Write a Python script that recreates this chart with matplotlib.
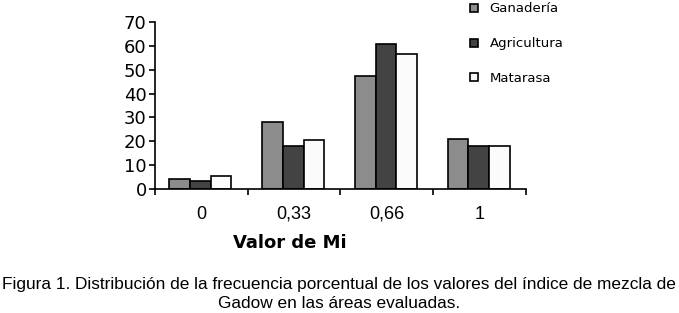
import matplotlib.pyplot as plt
import numpy as np

categorias = ["0", "0,33", "0,66", "1"]
ganaderia = [4.1, 28, 47.2, 20.8]
agricultura = [3.5, 18, 60.6, 18]
matarasa = [5.4, 20.7, 56.6, 18]

series = [("Ganadería", ganaderia, "#8c8c8c"),
          ("Agricultura", agricultura, "#434343"),
          ("Matarasa", matarasa, "#fbfbfb")]

fig = plt.figure(figsize=(6.79, 3.13), dpi=100)
ax = fig.add_axes([155 / 679, 1 - 189 / 313, 371 / 679, 167 / 313])

x = np.arange(len(categorias))
w = 0.223
for i, (nombre, vals, color) in enumerate(series):
    ax.bar(x + (i - 1) * w - 0.01, vals, w, color=color, edgecolor="black",
           linewidth=1.2, label=nombre)

ax.set_xlim(-0.5, 3.5)
ax.set_ylim(0, 70)
ax.set_yticks(range(0, 71, 10))
ax.set_xticks(np.arange(-0.5, 4, 1))
ax.set_xticklabels([])
ax.set_xticks(x, minor=True)
ax.set_xticklabels(categorias, minor=True)
ax.tick_params(axis="x", which="minor", length=0, pad=12, labelsize=13)
ax.tick_params(axis="x", which="major", length=4, width=1.2, direction="out")
ax.tick_params(axis="y", length=4, width=1.2, direction="out", labelsize=13, pad=2)
for lab in ax.get_xticklabels(minor=True):
    lab.set_fontfamily("Liberation Sans")
ax.spines["top"].set_visible(False)
ax.spines["right"].set_visible(False)
ax.spines["left"].set_linewidth(1.2)
ax.spines["bottom"].set_linewidth(1.2)

fig.text(290 / 679, 1 - 243 / 313, "Valor de Mi", ha="center", va="center",
         fontsize=13, fontweight="bold", family="DejaVu Sans")

leg = ax.legend(loc="upper left", bbox_to_anchor=(465 / 679, 1.009),
                bbox_transform=fig.transFigure, frameon=False, borderaxespad=0,
                fontsize=9.5, handlelength=0.55, handleheight=0.55,
                labelspacing=1.65, handletextpad=0.9)

fig.text(339 / 679, 1 - 285 / 313, "Figura 1. Distribución de la frecuencia porcentual de los valores del índice de mezcla de",
         ha="center", va="center", fontsize=12.4, family="Liberation Sans")
fig.text(339 / 679, 1 - 303 / 313, "Gadow en las áreas evaluadas.",
         ha="center", va="center", fontsize=12.4, family="Liberation Sans")

plt.savefig("out.png")
